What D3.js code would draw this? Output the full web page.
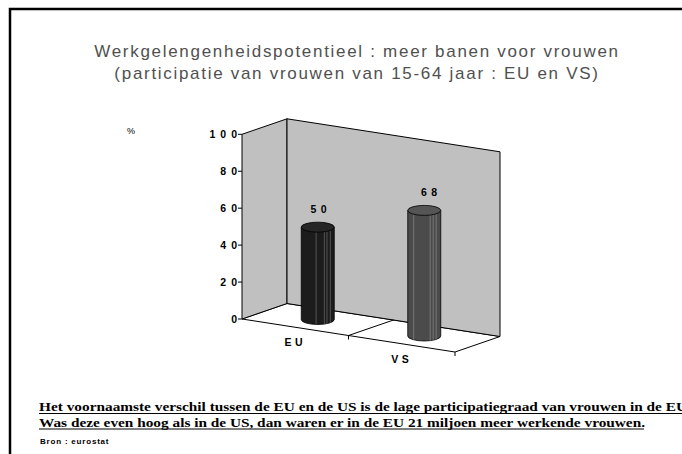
<!DOCTYPE html>
<html>
<head>
<meta charset="utf-8">
<script src="https://cdn.jsdelivr.net/npm/d3@7"></script>
<style>
  html, body { margin: 0; background: #fff; overflow: hidden; }
  svg { display: block; }
</style>
</head>
<body>
<div id="chart"></div>
<script>
// data
const categories = ["EU", "VS"];
const values = [50, 68];
const tickValues = [0, 20, 40, 60, 80, 100];
const titleLines = [
    "Werkgelengenheidspotentieel : meer banen voor vrouwen",
    "(participatie van vrouwen van 15-64 jaar : EU en VS)"
];
const noteLines = [
    "Het voornaamste verschil tussen de EU en de US is de lage participatiegraad van vrouwen in de EU",
    "Was deze even hoog als in de US, dan waren er in de EU 21 miljoen meer werkende vrouwen."
];
const source = "Bron : eurostat";

const width = 682, height = 454;

const svg = d3.select("#chart")
    .append("svg")
    .attr("width", width)
    .attr("height", height);

svg.append("rect")
    .attr("width", width).attr("height", height)
    .attr("fill", "#fff");

// outer frame (right and bottom edges fall outside the view)
svg.append("path")
    .attr("d", "M10,460V9H690")
    .attr("fill", "none")
    .attr("stroke", "#000")
    .attr("stroke-width", 2.5);

// title
svg.selectAll(".title")
    .data(titleLines)
    .join("text")
    .attr("class", "title")
    .attr("x", 357)
    .attr("y", (d, i) => 57 + i * 21.6)
    .attr("text-anchor", "middle")
    .attr("font-family", "Arial, 'Liberation Sans', sans-serif")
    .attr("font-size", 17)
    .attr("letter-spacing", 1.7)
    .attr("fill", "#505050")
    .text(d => d);

// 3d frame geometry
const origin = {x: 242, y: 319};
const front = {dx: 213, dy: 33};   // along category axis
const depth = {dx: 45, dy: -15.5}; // towards the back wall

const yScale = d3.scaleLinear().domain([0, 100]).range([0, 184.7]);
const xScale = d3.scaleBand().domain(categories).range([0, 1]);

function proj(u, w, v) {
    return [
        origin.x + u * front.dx + w * depth.dx,
        origin.y + u * front.dy + w * depth.dy - yScale(v)
    ];
}
const poly = pts => "M" + pts.map(p => p.join(",")).join("L") + "Z";

const frame = svg.append("g")
    .attr("stroke", "#000")
    .attr("stroke-width", 1)
    .attr("stroke-linejoin", "round");

// floor
frame.append("path")
    .attr("d", poly([proj(0, 0, 0), proj(1, 0, 0), proj(1, 1, 0), proj(0, 1, 0)]))
    .attr("fill", "#fff");
// left wall
frame.append("path")
    .attr("d", poly([proj(0, 0, 0), proj(0, 1, 0), proj(0, 1, 100), proj(0, 0, 100)]))
    .attr("fill", "#c0c0c0");
// back wall
frame.append("path")
    .attr("d", poly([proj(0, 1, 0), proj(1, 1, 0), proj(1, 1, 100), proj(0, 1, 100)]))
    .attr("fill", "#c0c0c0");

// category divider on floor + ticks on front edge
[0.5, 1].forEach(u => {
    const a = proj(u, 0, 0);
    frame.append("line")
        .attr("x1", a[0]).attr("y1", a[1])
        .attr("x2", a[0]).attr("y2", a[1] + 4);
});
const mid0 = proj(0.5, 0, 0), mid1 = proj(0.5, 1, 0);
frame.append("line")
    .attr("x1", mid0[0]).attr("y1", mid0[1])
    .attr("x2", mid1[0]).attr("y2", mid1[1]);

// value axis
const axis = svg.append("g")
    .attr("font-family", "Arial, 'Liberation Sans', sans-serif")
    .attr("font-weight", "bold")
    .attr("font-size", 10.5);

axis.selectAll("line.tick")
    .data(tickValues)
    .join("line")
    .attr("class", "tick")
    .attr("x1", d => proj(0, 0, d)[0] - 4)
    .attr("x2", d => proj(0, 0, d)[0])
    .attr("y1", d => proj(0, 0, d)[1])
    .attr("y2", d => proj(0, 0, d)[1])
    .attr("stroke", "#000");

axis.selectAll("text.tick")
    .data(tickValues)
    .join("text")
    .attr("class", "tick")
    .attr("x", d => proj(0, 0, d)[0])
    .attr("y", d => proj(0, 0, d)[1])
    .attr("dy", "0.35em")
    .attr("text-anchor", "end")
    .attr("letter-spacing", 5)
    .text(d => d);

axis.append("text")
    .attr("x", 127).attr("y", 134)
    .attr("font-size", 9)
    .attr("font-weight", "normal")
    .text("%");

// category labels
axis.selectAll("text.cat")
    .data(categories)
    .join("text")
    .attr("class", "cat")
    .attr("x", d => proj(xScale(d) + xScale.bandwidth() / 2, 0, 0)[0])
    .attr("y", d => proj(xScale(d) + xScale.bandwidth() / 2, 0, 0)[1] + 19)
    .attr("text-anchor", "middle")
    .attr("letter-spacing", 3.5)
    .text(d => d);

// cylinders
const barColors = ["#1c1c1c", "#4b4b4b"];
const topColors = ["#262626", "#555555"];
const stripeColors = ["#6a6a6a", "#8a8a8a"];
const stripes = [[0.45, 0.7, 0.78, 0.88], [0.18, 0.68, 0.77, 0.86]];
const rx = 16.5, ry = 5;

const bars = svg.selectAll("g.bar")
    .data(categories.map((c, i) => ({c, v: values[i], i})))
    .join("g")
    .attr("class", "bar");

bars.each(function(d) {
    const g = d3.select(this);
    const u = xScale(d.c) + xScale.bandwidth() / 2;
    const [cx, by] = proj(u, 0.5, 0);
    const ty = proj(u, 0.5, d.v)[1];

    g.append("path")
        .attr("d", `M${cx - rx},${ty}L${cx - rx},${by}A${rx},${ry} 0 0 0 ${cx + rx},${by}L${cx + rx},${ty}Z`)
        .attr("fill", barColors[d.i])
        .attr("stroke", "#000")
        .attr("stroke-width", 0.8);

    stripes[d.i].forEach(f => {
        const x = cx - rx + f * 2 * rx;
        const dyb = ry * Math.sqrt(Math.max(0, 1 - Math.pow((x - cx) / rx, 2)));
        g.append("line")
            .attr("x1", x).attr("x2", x)
            .attr("y1", ty + dyb).attr("y2", by + dyb)
            .attr("stroke", stripeColors[d.i])
            .attr("stroke-width", 0.7);
    });

    g.append("ellipse")
        .attr("cx", cx).attr("cy", ty)
        .attr("rx", rx).attr("ry", ry)
        .attr("fill", topColors[d.i])
        .attr("stroke", "#000")
        .attr("stroke-width", 0.8);

    g.append("text")
        .attr("x", cx + 3 + d.i * 4)
        .attr("y", ty - 18)
        .attr("dy", "0.35em")
        .attr("text-anchor", "middle")
        .attr("font-family", "Arial, 'Liberation Sans', sans-serif")
        .attr("font-weight", "bold")
        .attr("font-size", 10.5)
        .attr("letter-spacing", 4.5)
        .text(d.v);
});

// note below the chart
const noteLengths = [648, 606];
const notes = svg.append("g")
    .attr("font-family", "'Liberation Serif', 'Times New Roman', serif")
    .attr("font-weight", "bold")
    .attr("font-size", 12.5);

noteLines.forEach((t, i) => {
    const y = 411 + i * 15.5;
    notes.append("text")
        .attr("x", 39).attr("y", y)
        .attr("textLength", noteLengths[i])
        .attr("lengthAdjust", "spacingAndGlyphs")
        .text(t);
    notes.append("line")
        .attr("x1", 39).attr("x2", 39 + noteLengths[i] - 1)
        .attr("y1", y + 2.5).attr("y2", y + 2.5)
        .attr("stroke", "#000")
        .attr("stroke-width", 1.2);
});

svg.append("text")
    .attr("x", 40).attr("y", 444)
    .attr("font-family", "Arial, 'Liberation Sans', sans-serif")
    .attr("font-weight", "bold")
    .attr("font-size", 8)
    .attr("letter-spacing", 0.8)
    .text(source);
</script>
</body>
</html>
